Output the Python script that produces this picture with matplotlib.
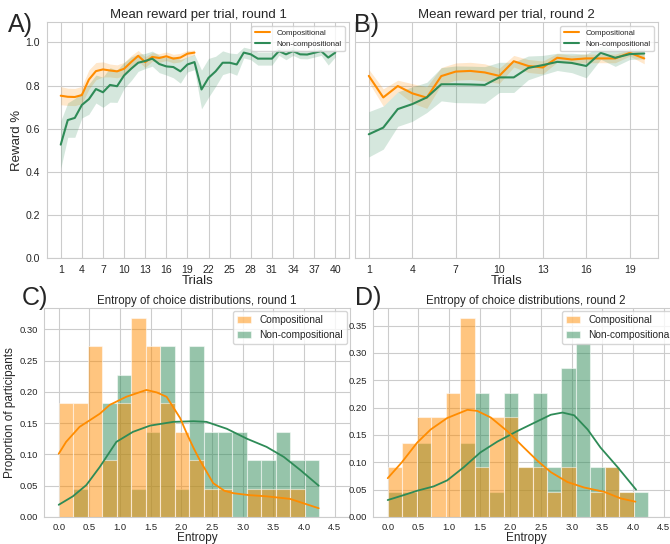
import numpy as np
import matplotlib.pyplot as plt
import seaborn as sns

sns.set_style("whitegrid")
plt.rcParams['font.family'] = ['Liberation Sans', 'DejaVu Sans']

ORANGE = "darkorange"
GREEN = "seagreen"

### Mean reward per trial, round 1 ###
trials_r1 = np.arange(1, 41)
comp_r1 = [0.753, 0.748, 0.747, 0.756, 0.828, 0.867, 0.875, 0.870, 0.866, 0.878,
           0.909, 0.938, 0.909, 0.933, 0.928, 0.936, 0.925, 0.930, 0.948, 0.953]
comp_r1_ci = [0.042, 0.04, 0.04, 0.04, 0.045, 0.04, 0.035, 0.03, 0.03, 0.03,
              0.03, 0.025, 0.025, 0.02, 0.02, 0.02, 0.02, 0.02, 0.015, 0.012]
noncomp_r1 = [0.526, 0.640, 0.650, 0.710, 0.737, 0.784, 0.769, 0.803, 0.797, 0.847,
              0.878, 0.906, 0.914, 0.925, 0.900, 0.889, 0.886, 0.866, 0.898, 0.909,
              0.782, 0.836, 0.866, 0.906, 0.906, 0.898, 0.953, 0.945, 0.925, 0.925,
              0.925, 0.960, 0.945, 0.960, 0.945, 0.944, 0.952, 0.960, 0.930, 0.953]
noncomp_r1_ci = [0.11, 0.08, 0.09, 0.06, 0.07, 0.065, 0.07, 0.08, 0.075, 0.06,
                 0.055, 0.04, 0.035, 0.035, 0.04, 0.04, 0.05, 0.055, 0.035, 0.035,
                 0.09, 0.09, 0.07, 0.055, 0.045, 0.05, 0.025, 0.025, 0.03, 0.03,
                 0.03, 0.02, 0.025, 0.02, 0.02, 0.02, 0.02, 0.02, 0.035, 0.02]

### Mean reward per trial, round 2 ###
trials_r2 = np.arange(1, 21)
comp_r2 = [0.845, 0.745, 0.798, 0.764, 0.744, 0.844, 0.865, 0.868, 0.861, 0.845,
           0.913, 0.891, 0.884, 0.929, 0.921, 0.926, 0.926, 0.926, 0.952, 0.926]
comp_r2_ci = [0.03, 0.04, 0.027, 0.045, 0.05, 0.04, 0.04, 0.04, 0.04, 0.035,
              0.027, 0.03, 0.03, 0.02, 0.02, 0.02, 0.02, 0.02, 0.015, 0.025]
noncomp_r2 = [0.574, 0.605, 0.691, 0.714, 0.745, 0.806, 0.806, 0.805, 0.803, 0.838,
              0.838, 0.882, 0.895, 0.910, 0.905, 0.891, 0.952, 0.929, 0.946, 0.949]
noncomp_r2_ci = [0.105, 0.10, 0.08, 0.08, 0.07, 0.077, 0.085, 0.085, 0.085, 0.07,
                 0.07, 0.055, 0.045, 0.04, 0.045, 0.055, 0.03, 0.04, 0.025, 0.025]

### Entropy histograms (shared bins) ###
bin_edges = np.linspace(0, 4.25, 19)
hist_comp_r1 = [0.182, 0.182, 0.273, 0.091, 0.182, 0.318, 0.273, 0.182, 0.136, 0.091,
                0.045, 0.045, 0.0, 0.045, 0.045, 0.045, 0.045, 0.0]
hist_noncomp_r1 = [0.0, 0.045, 0.0, 0.182, 0.227, 0.045, 0.136, 0.273, 0.045, 0.273,
                   0.136, 0.136, 0.136, 0.091, 0.091, 0.136, 0.091, 0.091]
hist_comp_r2 = [0.091, 0.136, 0.182, 0.182, 0.227, 0.364, 0.091, 0.182, 0.182, 0.091,
                0.091, 0.045, 0.091, 0.0, 0.045, 0.091, 0.045, 0.0]
hist_noncomp_r2 = [0.045, 0.045, 0.136, 0.0, 0.0, 0.136, 0.227, 0.045, 0.227, 0.091,
                   0.227, 0.091, 0.273, 0.318, 0.091, 0.091, 0.045, 0.045]

# kde curves
kde_x_comp_r1 = [0.0, 0.12, 0.34, 0.67, 0.83, 1.1, 1.43, 1.6, 1.76, 1.98, 2.09, 2.2,
                 2.30, 2.52, 2.7, 2.85, 3.1, 3.39, 3.77, 4.24]
kde_y_comp_r1 = [0.101, 0.12, 0.144, 0.165, 0.179, 0.192, 0.203, 0.199, 0.192, 0.158,
                 0.133, 0.11, 0.091, 0.054, 0.042, 0.038, 0.035, 0.033, 0.029, 0.014]
kde_x_noncomp_r1 = [0.0, 0.23, 0.45, 0.67, 0.94, 1.21, 1.49, 1.87, 2.2, 2.41, 2.74,
                    3.07, 3.39, 3.67, 3.94, 4.24]
kde_y_noncomp_r1 = [0.0195, 0.033, 0.051, 0.08, 0.12, 0.136, 0.146, 0.152, 0.153,
                    0.152, 0.141, 0.125, 0.112, 0.096, 0.075, 0.05]
kde_x_comp_r2 = [0.0, 0.23, 0.48, 0.70, 0.97, 1.30, 1.46, 1.68, 1.95, 2.22, 2.44,
                 2.66, 2.93, 3.20, 3.53, 3.80, 4.04]
kde_y_comp_r2 = [0.071, 0.10, 0.136, 0.16, 0.181, 0.196, 0.194, 0.182, 0.157, 0.127,
                 0.103, 0.082, 0.064, 0.054, 0.046, 0.034, 0.028]
kde_x_noncomp_r2 = [0.0, 0.26, 0.48, 0.75, 0.97, 1.24, 1.51, 1.79, 2.11, 2.44, 2.66,
                    2.85, 3.04, 3.26, 3.47, 3.75, 4.05]
kde_y_noncomp_r2 = [0.031, 0.04, 0.048, 0.056, 0.067, 0.091, 0.118, 0.138, 0.157,
                    0.175, 0.187, 0.191, 0.186, 0.16, 0.127, 0.091, 0.05]

fig = plt.figure(figsize=(6.7, 5.44), dpi=100)
W, H = 670.0, 544.0

def px_axes(left, top, right, bottom):
    return fig.add_axes([left / W, 1 - bottom / H, (right - left) / W, (bottom - top) / H])

axA = px_axes(47, 22, 349, 258)
axB = px_axes(355, 22, 658, 258)
axC = px_axes(44, 308, 350, 517)
axD = px_axes(373, 308, 679, 517)

def reward_panel(ax, x, comp, comp_ci, noncomp, noncomp_ci, title):
    comp = np.array(comp)
    noncomp = np.array(noncomp)
    xc = x[:len(comp)]
    ax.fill_between(xc, comp - comp_ci, comp + comp_ci, color=ORANGE, alpha=0.2, lw=0)
    ax.fill_between(x, noncomp - noncomp_ci, noncomp + noncomp_ci, color=GREEN, alpha=0.2, lw=0)
    ax.plot(xc, comp, color=ORANGE, lw=1.5, label="Compositional")
    ax.plot(x, noncomp, color=GREEN, lw=1.5, label="Non-compositional")
    ax.set_ylim(0, 1.095)
    ax.set_yticks([0, 0.2, 0.4, 0.6, 0.8, 1.0])
    ax.set_xticks(np.arange(1, x[-1] + 1, 3))
    ax.tick_params(labelsize=7.6, pad=1.5)
    ax.set_title(title, fontsize=9.5, pad=3)
    ax.set_xlabel("Trials", fontsize=9.5, labelpad=0)
    ax.legend(loc="upper right", fontsize=5.7)

reward_panel(axA, trials_r1, comp_r1, comp_r1_ci, noncomp_r1, noncomp_r1_ci,
             "Mean reward per trial, round 1")
axA.set_ylabel("Reward %", fontsize=9.5, labelpad=2)
reward_panel(axB, trials_r2, comp_r2, comp_r2_ci, noncomp_r2, noncomp_r2_ci,
             "Mean reward per trial, round 2")
axB.tick_params(labelleft=False)

def entropy_panel(ax, comp_h, noncomp_h, kx_c, ky_c, kx_n, ky_n, title, yticks):
    widths = np.diff(bin_edges)
    ax.bar(bin_edges[:-1], noncomp_h, width=widths, align="edge", color=GREEN,
           alpha=0.5, edgecolor="white", linewidth=0.8, label="Non-compositional", zorder=2)
    ax.bar(bin_edges[:-1], comp_h, width=widths, align="edge", color=ORANGE,
           alpha=0.5, edgecolor="white", linewidth=0.8, label="Compositional", zorder=3)
    ax.plot(kx_n, ky_n, color=GREEN, lw=1.3, zorder=4)
    ax.plot(kx_c, ky_c, color=ORANGE, lw=1.3, zorder=5)
    ax.set_xlim(-0.24, 4.75)
    ax.set_xticks(np.arange(0, 4.51, 0.5))
    ax.set_yticks(yticks)
    ax.set_ylim(0, max(max(comp_h), max(noncomp_h)) * 1.05)
    ax.tick_params(labelsize=6.8, pad=1)
    ax.set_title(title, fontsize=8.3, pad=3)
    ax.set_xlabel("Entropy", fontsize=8.5, labelpad=-0.5)
    handles, labels = ax.get_legend_handles_labels()
    ax.legend(handles[::-1], labels[::-1], loc="upper right", fontsize=7.3,
              handlelength=1.4, borderaxespad=0.3)

entropy_panel(axC, hist_comp_r1, hist_noncomp_r1, kde_x_comp_r1, kde_y_comp_r1,
              kde_x_noncomp_r1, kde_y_noncomp_r1,
              "Entropy of choice distributions, round 1", np.arange(0, 0.31, 0.05))
axC.set_ylabel("Proportion of participants", fontsize=8.5, labelpad=2)
entropy_panel(axD, hist_comp_r2, hist_noncomp_r2, kde_x_comp_r2, kde_y_comp_r2,
              kde_x_noncomp_r2, kde_y_noncomp_r2,
              "Entropy of choice distributions, round 2", np.arange(0, 0.36, 0.05))

for letter, x, y in [("A)", 8, 32), ("B)", 354, 32), ("C)", 22, 305), ("D)", 355, 305)]:
    fig.text(x / W, 1 - y / H, letter, fontsize=18, va="baseline", ha="left")

fig.savefig("out.png", dpi=100)
